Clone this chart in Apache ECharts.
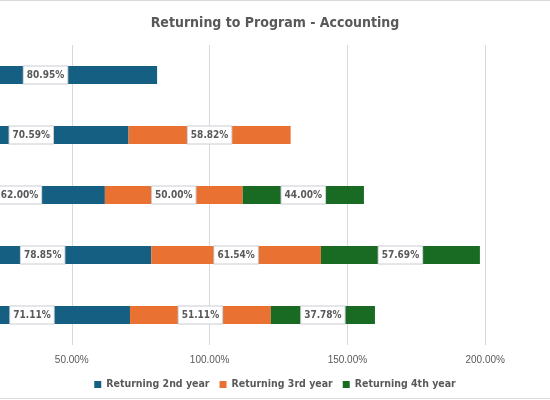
<!DOCTYPE html>
<html lang="en">

<head>
    <meta charset="UTF-8">
    <title>Returning to Program - Accounting</title>
    <script src="https://cdn.jsdelivr.net/npm/echarts@6/dist/echarts.min.js"></script>
    <style>
        html, body { margin: 0; padding: 0; background: #fff; }
    </style>
</head>

<body>
    <div id="barChart" style="width: 550px; height: 400px;"></div>

    <script>
        // rows top to bottom (category names are cut off in the original)
        var cohorts = ['A', 'B', 'C', 'D', 'E'];
        var year2 = [80.95, 70.59, 62.00, 78.85, 71.11];
        var year3 = [null, 58.82, 50.00, 61.54, 51.11];
        var year4 = [null, null, 44.00, 57.69, 37.78];
        var seriesNames = ['Returning 2nd year', 'Returning 3rd year', 'Returning 4th year'];
        var colors = ['#156082', '#E97132', '#196B24'];

        var narrow = 'DejaVu Sans Condensed, sans-serif';

        var chartDom = document.getElementById('barChart');
        var myChart = echarts.init(chartDom);

        var labelStyle = {
            show: true,
            position: 'inside',
            formatter: function (p) { return p.value.toFixed(2) + '%'; },
            color: '#595959',
            fontFamily: narrow,
            fontWeight: 'bold',
            fontSize: 10,
            backgroundColor: '#fff',
            borderColor: '#c8ccd4',
            borderWidth: 1,
            padding: [4, 3, 3, 3]
        };

        function makeSeries(i, data) {
            return {
                name: seriesNames[i],
                type: 'bar',
                stack: 'total',
                barWidth: '30%',
                itemStyle: { color: colors[i] },
                label: labelStyle,
                data: data
            };
        }

        var option = {
            animation: false,
            color: colors,
            title: {
                text: 'Returning to Program - Accounting',
                left: 'center',
                top: 11,
                textStyle: {
                    color: '#595959',
                    fontSize: 14,
                    fontWeight: 'bold',
                    fontFamily: narrow
                }
            },
            legend: {
                bottom: 5,
                left: 'center',
                itemWidth: 7,
                itemHeight: 7,
                itemGap: 10,
                icon: 'rect',
                textStyle: {
                    color: '#595959',
                    fontSize: 10.5,
                    fontWeight: 'bold',
                    fontFamily: narrow
                },
                data: seriesNames
            },
            grid: {
                left: -66,
                right: -73,
                top: 45,
                bottom: 55,
                containLabel: false,
                outerBoundsMode: 'none'
            },
            xAxis: {
                type: 'value',
                min: 0,
                max: 250,
                interval: 50,
                axisLine: { show: false },
                axisTick: { show: false },
                splitLine: { lineStyle: { color: '#d9d9d9' } },
                axisLabel: {
                    color: '#595959',
                    fontSize: 10,
                    margin: 10,
                    fontFamily: 'Liberation Sans, Arial, sans-serif',
                    formatter: function (v) { return v.toFixed(2) + '%'; }
                }
            },
            yAxis: {
                type: 'category',
                inverse: true,
                data: cohorts,
                axisLine: { show: false },
                axisTick: { show: false },
                axisLabel: { show: false }
            },
            graphic: [
                { type: 'line', shape: { x1: 0, y1: 0.5, x2: 550, y2: 0.5 }, style: { stroke: '#d9d9d9', lineWidth: 1 } },
                { type: 'line', shape: { x1: 0, y1: 398.5, x2: 550, y2: 398.5 }, style: { stroke: '#d9d9d9', lineWidth: 1 } }
            ],
            series: [
                makeSeries(0, year2),
                makeSeries(1, year3),
                makeSeries(2, year4)
            ]
        };

        option && myChart.setOption(option);
    </script>

</body>

</html>
